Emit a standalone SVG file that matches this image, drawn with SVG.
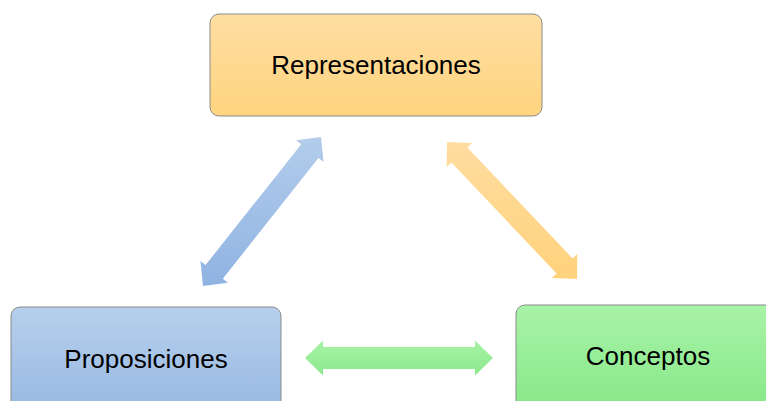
<svg xmlns="http://www.w3.org/2000/svg" width="766" height="401" viewBox="0 0 766 401">
<defs>
<linearGradient id="gO" x1="0" y1="0" x2="0" y2="1"><stop offset="0" stop-color="#ffdea3"/><stop offset="1" stop-color="#ffd47e"/></linearGradient>
<linearGradient id="gB" x1="0" y1="0" x2="0" y2="1"><stop offset="0" stop-color="#b6cfec"/><stop offset="1" stop-color="#97b8e2"/></linearGradient>
<linearGradient id="gG" x1="0" y1="0" x2="0" y2="1"><stop offset="0" stop-color="#a8f3a8"/><stop offset="1" stop-color="#86e786"/></linearGradient>
<linearGradient id="aB" x1="0" y1="0" x2="0" y2="1"><stop offset="0" stop-color="#b3cdeb"/><stop offset="1" stop-color="#8fb3e2"/></linearGradient>
<linearGradient id="aO" x1="0" y1="0" x2="0" y2="1"><stop offset="0" stop-color="#ffdda0"/><stop offset="1" stop-color="#ffd27c"/></linearGradient>
<linearGradient id="aG" x1="0" y1="0" x2="0" y2="1"><stop offset="0" stop-color="#a6f2a6"/><stop offset="1" stop-color="#8ce98c"/></linearGradient>
</defs>
<style>
.box{stroke:#8a8a8a;stroke-width:1}
.lbl{font-family:"Liberation Sans",Arial,sans-serif;font-size:26px;fill:#000;text-anchor:middle}
</style>
<g id="connectors">
<polygon fill="url(#aB)" points="203,286 200.45,261.03 205.55,265.06 301.21,144.28 296.11,140.25 321,137 323.55,161.97 318.45,157.94 222.79,278.72 227.89,282.75"/>
<polygon fill="url(#aO)" points="577,279 551.92,277.99 556.63,273.52 451.41,162.62 446.7,167.09 447,142 472.08,143.01 467.37,147.48 572.59,258.38 577.3,253.91"/>
<polygon fill="url(#aG)" points="305,358 323,340.5 323,347 475,347 475,340.5 493,358 475,375.5 475,369 323,369 323,375.5"/>
</g>
<g id="representaciones">
<rect class="box" x="210" y="14" width="332" height="102" rx="9" fill="url(#gO)"/>
<text class="lbl" x="376" y="74">Representaciones</text>
</g>
<g id="proposiciones">
<rect class="box" x="11" y="307" width="270" height="110" rx="9" fill="url(#gB)"/>
<text class="lbl" x="146" y="368">Proposiciones</text>
</g>
<g id="conceptos">
<rect class="box" x="516" y="305" width="264" height="110" rx="9" fill="url(#gG)"/>
<text class="lbl" x="648" y="365">Conceptos</text>
</g>
</svg>
